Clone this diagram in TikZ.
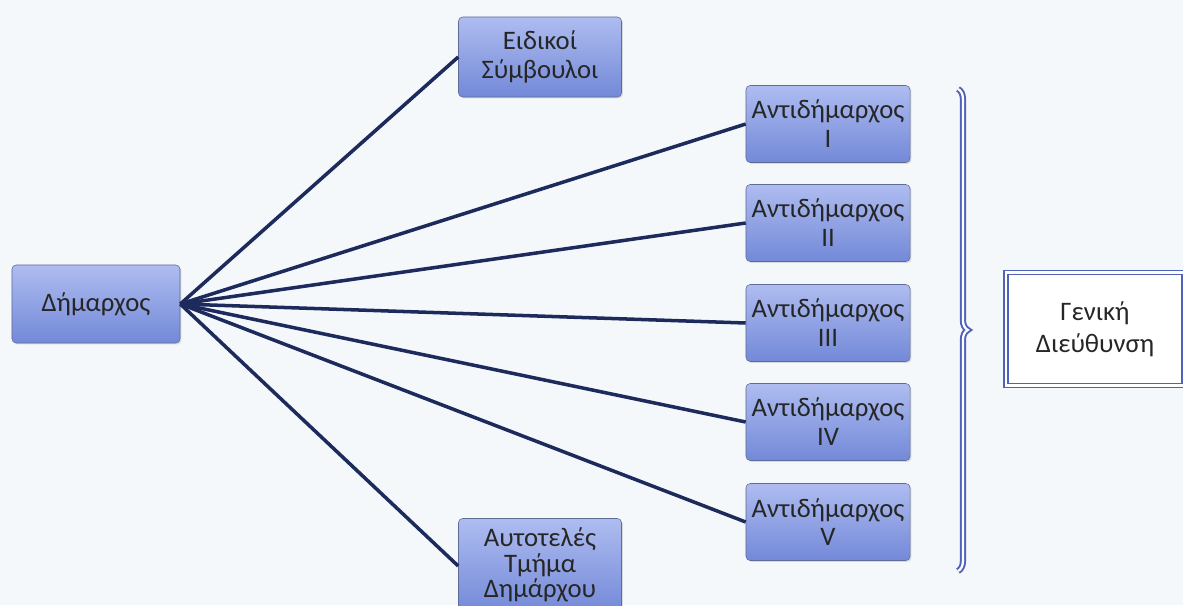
\documentclass[tikz,border=0pt]{standalone}
\usepackage{fontspec}
\setmainfont{Carlito}
\usetikzlibrary{positioning,shadows,decorations.pathreplacing}

\definecolor{bgcol}{HTML}{F4F8FB}
\definecolor{boxtop}{HTML}{AEBCF0}
\definecolor{boxbot}{HTML}{7389D8}
\definecolor{boxline}{HTML}{5F6C98}
\definecolor{linkcol}{HTML}{1D2A5C}
\definecolor{bracecol}{HTML}{4F61B8}

\begin{document}
\begin{tikzpicture}[x=0.025cm, y=-0.025cm,
        unit/.style = {draw=boxline, rounded corners=3pt, top color=boxtop, bottom color=boxbot,
                       align=center, text=black!85, inner sep=1pt, font=\fontsize{19}{20.5}\selectfont,
                       drop shadow={opacity=0.25, shadow xshift=1pt, shadow yshift=-1pt}},
        link/.style = {draw=linkcol, line width=2.5pt},
        head/.style = {draw=bracecol, line width=0.9pt, double=white, double distance=2pt, fill=white,
                       align=center, text=black!85, font=\fontsize{19}{23}\selectfont},
        ]
        \useasboundingbox[fill=bgcol] (0,0) rectangle (1183,605);
        \clip (0,0) rectangle (1183,605);
        % mayor and the units below
        \node[unit, minimum width=4.2cm, minimum height=1.95cm](mayor) at (96,304) {Δήμαρχος};
        \node[unit, minimum width=4.075cm, minimum height=2cm](adv) at (540,57) {Ειδικοί\\Σύμβουλοι};
        \node[unit, minimum width=4.075cm, minimum height=2.375cm](dept) at (540,566) {};
        \node[align=center, text=black!85, font=\fontsize{19}{18}\selectfont](depttext) at (540,565) {Αυτοτελές\\Τμήμα\\Δημάρχου};
        \foreach \n/\r/\y in {1/I/124, 2/II/223, 3/III/323, 4/IV/422, 5/V/522} {
            \node[unit, minimum width=4.1cm, minimum height=1.925cm](dep\n) at (828,\y) {Αντιδήμαρχος\\\r};
        }
        % connectors
        \draw[link] (mayor.east) -- (adv.west);
        \draw[link] (mayor.east) -- (dept.west);
        \foreach \n in {1,...,5} {
            \draw[link] (mayor.east) -- (dep\n.west);
        }
        % brace and general directorate
        \coordinate (btop) at (958,89);
        \coordinate (bbot) at (958,571);
        \draw[bracecol, line width=1.4pt, double=white, double distance=1.6pt,
              decorate, decoration={brace, amplitude=7pt}] (btop) -- (bbot);
        \node[head, minimum width=4.45cm, minimum height=2.825cm](gd) at (1095,329) {Γενική\\Διεύθυνση};
\end{tikzpicture}
\end{document}
